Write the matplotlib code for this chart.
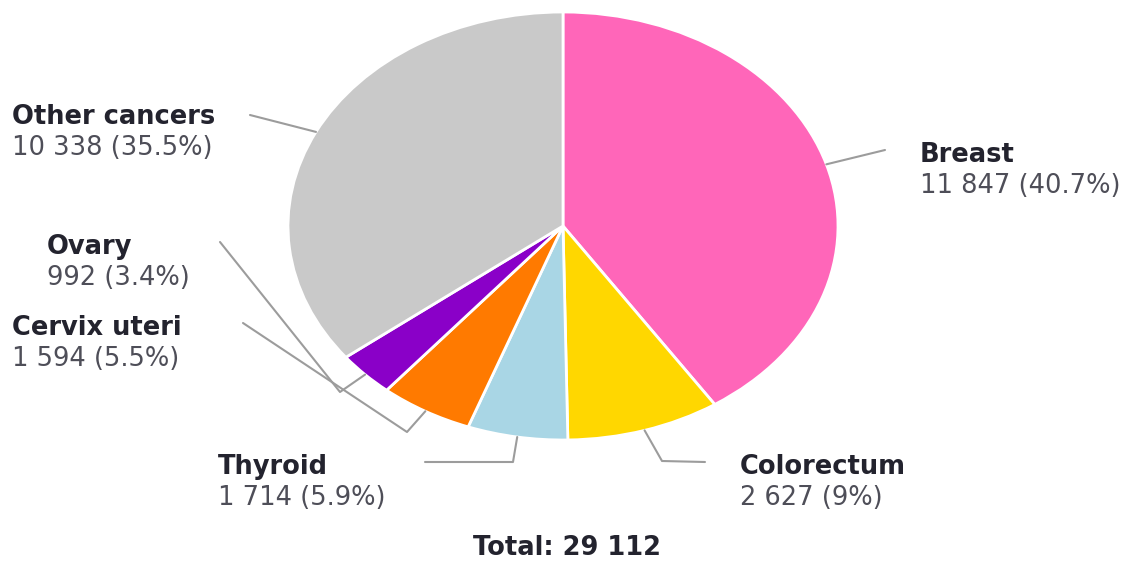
import numpy as np
import matplotlib
matplotlib.use("Agg")
import matplotlib.pyplot as plt

# new cancer cases, women, all ages
sites = ["Breast", "Colorectum", "Thyroid", "Cervix uteri", "Ovary", "Other cancers"]
cases = [11847, 2627, 1714, 1594, 992, 10338]
shares = ["40.7%", "9%", "5.9%", "5.5%", "3.4%", "35.5%"]
colors = ["#ff66b9", "#ffd700", "#a9d6e5", "#ff7a00", "#8a00c8", "#c9c9c9"]
total = 29112

# label layout in pixels: text anchor, elbow of the leader, leader end
label_pos = [(920, 155), (740, 467), (218, 467), (12, 328), (47, 247), (12, 117)]
elbows = [None, (662, 461), (513, 462), (407, 432), (340, 392), None]
ends = [(885, 150), (705, 462), (425, 462), (243, 323), (220, 242), (250, 115)]

W, H = 1135, 565
plt.rcParams['font.family'] = ['DejaVu Sans']
fig = plt.figure(figsize=(W / 100, H / 100), dpi=100, facecolor='white')

# pie is drawn stretched: 550 x 428 px box
ax = fig.add_axes([288 / W, 1 - 440 / H, 550 / W, 428 / H])
wedges, _ = ax.pie(cases, colors=colors, startangle=90, counterclock=False,
                   radius=1, wedgeprops=dict(edgecolor='white', linewidth=2))
ax.set_aspect('auto')
ax.set_xlim(-1, 1)
ax.set_ylim(-1, 1)
ax.axis('off')

# overlay in pixel coordinates for labels and leader lines
ov = fig.add_axes([0, 0, 1, 1], facecolor='none')
ov.set_xlim(0, W)
ov.set_ylim(H, 0)
ov.axis('off')

to_px = ax.transData + ov.transData.inverted()

for i, w in enumerate(wedges):
    mid = np.deg2rad((w.theta1 + w.theta2) / 2)
    sx, sy = to_px.transform((np.cos(mid), np.sin(mid)))
    pts = [(sx, sy)]
    if elbows[i] is not None:
        pts.append(elbows[i])
    pts.append(ends[i])
    xs, ys = zip(*pts)
    ov.plot(xs, ys, color='#9c9c9c', lw=1.5, solid_joinstyle='round',
            solid_capstyle='round')

    tx, ty = label_pos[i]
    ov.text(tx, ty, sites[i], fontsize=18.5, fontweight='bold',
            color='#23232e', ha='left', va='center')
    ov.text(tx, ty + 31, f"{cases[i]:,}".replace(",", " ") + f" ({shares[i]})",
            fontsize=18.5, color='#4e4e58', ha='left', va='center')

ov.text(567, 548, "Total: " + f"{total:,}".replace(",", " "), fontsize=18.5,
        fontweight='bold', color='#23232e', ha='center', va='center')

fig.savefig('out.png', dpi=100, facecolor='white')
